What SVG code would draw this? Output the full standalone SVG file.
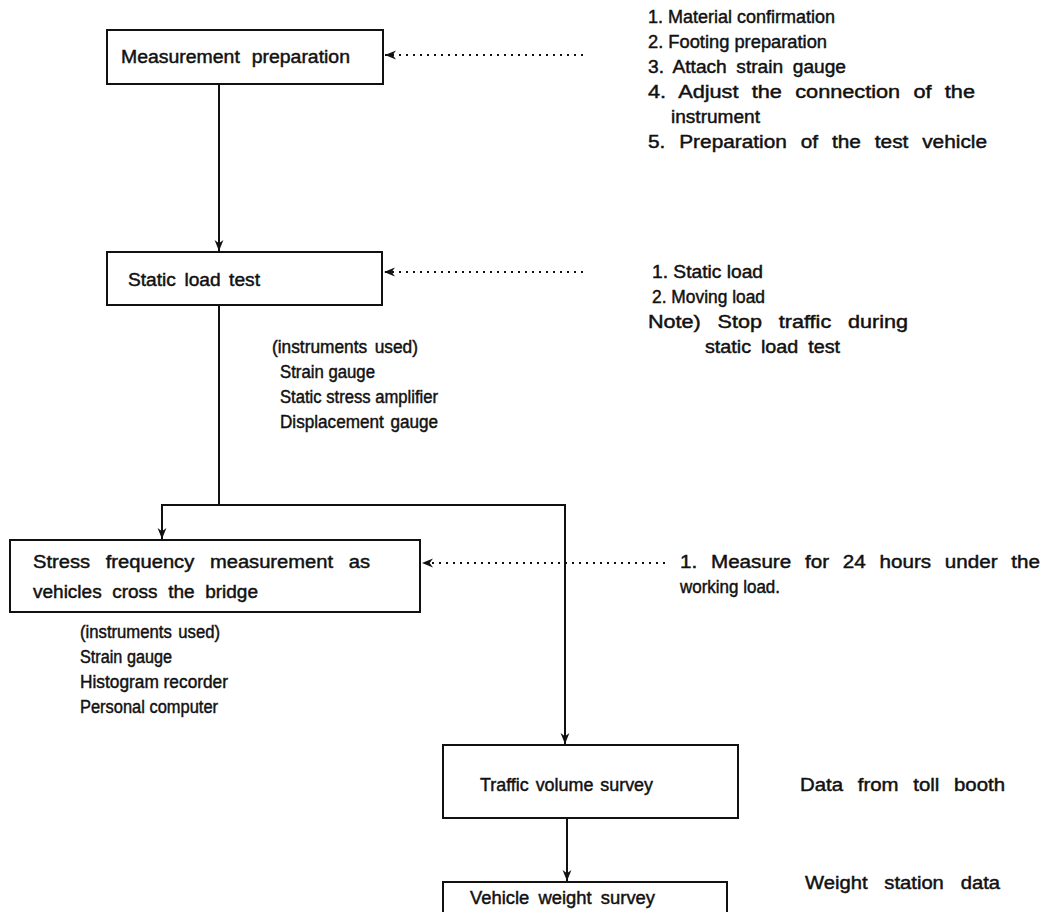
<svg xmlns="http://www.w3.org/2000/svg" width="1050" height="912" viewBox="0 0 1050 912">
<style>
text{font-family:"Liberation Sans",Arial,sans-serif;font-size:18px;fill:#111;stroke:#111;stroke-width:0.45px}
.box{fill:#fff;stroke:#111;stroke-width:2}
.ln{fill:none;stroke:#111;stroke-width:2}
.dot{fill:none;stroke:#111;stroke-width:2;stroke-dasharray:2 5}
</style>
<defs>
<marker id="ah" viewBox="0 0 10 10" refX="10" refY="5" markerWidth="11" markerHeight="11" markerUnits="userSpaceOnUse" orient="auto">
<path d="M0,1 L10,5 L0,9 L3,5 Z" fill="#111"/>
</marker>
</defs>
<rect width="1050" height="912" fill="#fff"/>
<g id="connectors">
<line class="ln" x1="219" y1="84" x2="219" y2="251" marker-end="url(#ah)"/>
<polyline class="ln" points="219,305 219,505 162,505 162,539" marker-end="url(#ah)"/>
<polyline class="ln" points="219,505 565,505 565,744" marker-end="url(#ah)"/>
<line class="ln" x1="567" y1="818" x2="567" y2="881" marker-end="url(#ah)"/>
<line class="dot" x1="583" y1="55" x2="385" y2="55" marker-end="url(#ah)"/>
<line class="dot" x1="583" y1="272" x2="384" y2="272" marker-end="url(#ah)"/>
<line class="dot" x1="665" y1="563" x2="422" y2="563" marker-end="url(#ah)"/>
</g>
<g id="n1">
<rect class="box" x="107" y="30" width="276" height="54"/>
<text x="121" y="63" word-spacing="6" textLength="229" lengthAdjust="spacingAndGlyphs">Measurement preparation</text>
</g>
<g id="n1-notes">
<text x="648" y="23" textLength="187" lengthAdjust="spacingAndGlyphs">1. Material confirmation</text>
<text x="648" y="48" textLength="179" lengthAdjust="spacingAndGlyphs">2. Footing preparation</text>
<text x="648" y="73" word-spacing="4" textLength="198" lengthAdjust="spacingAndGlyphs">3. Attach strain gauge</text>
<text x="648" y="98" word-spacing="6" textLength="327" lengthAdjust="spacingAndGlyphs">4. Adjust the connection of the</text>
<text x="671" y="123" textLength="89" lengthAdjust="spacingAndGlyphs">instrument</text>
<text x="648" y="148" word-spacing="7" textLength="339" lengthAdjust="spacingAndGlyphs">5. Preparation of the test vehicle</text>
</g>
<g id="n2">
<rect class="box" x="107" y="252" width="275" height="53"/>
<text x="128" y="286" word-spacing="3" textLength="132" lengthAdjust="spacingAndGlyphs">Static load test</text>
</g>
<g id="n2-notes">
<text x="652" y="278" textLength="111" lengthAdjust="spacingAndGlyphs">1. Static load</text>
<text x="652" y="303" textLength="113" lengthAdjust="spacingAndGlyphs">2. Moving load</text>
<text x="648" y="328" word-spacing="9" textLength="260" lengthAdjust="spacingAndGlyphs">Note) Stop traffic during</text>
<text x="705" y="353" word-spacing="4" textLength="135" lengthAdjust="spacingAndGlyphs">static load test</text>
</g>
<g id="n2-instruments">
<text x="272" y="353" word-spacing="3" textLength="146" lengthAdjust="spacingAndGlyphs">(instruments used)</text>
<text x="280" y="378" textLength="95" lengthAdjust="spacingAndGlyphs">Strain gauge</text>
<text x="280" y="403" textLength="158" lengthAdjust="spacingAndGlyphs">Static stress amplifier</text>
<text x="280" y="428" word-spacing="2" textLength="158" lengthAdjust="spacingAndGlyphs">Displacement gauge</text>
</g>
<g id="n3">
<rect class="box" x="10" y="540" width="410" height="72"/>
<text x="33" y="568" word-spacing="9" textLength="337" lengthAdjust="spacingAndGlyphs">Stress frequency measurement as</text>
<text x="33" y="598" word-spacing="5" textLength="225" lengthAdjust="spacingAndGlyphs">vehicles cross the bridge</text>
</g>
<g id="n3-notes">
<text x="680" y="568" word-spacing="7" textLength="360" lengthAdjust="spacingAndGlyphs">1. Measure for 24 hours under the</text>
<text x="680" y="593" textLength="100" lengthAdjust="spacingAndGlyphs">working load.</text>
</g>
<g id="n3-instruments">
<text x="80" y="638" word-spacing="2" textLength="140" lengthAdjust="spacingAndGlyphs">(instruments used)</text>
<text x="80" y="663" textLength="92" lengthAdjust="spacingAndGlyphs">Strain gauge</text>
<text x="80" y="688" textLength="148" lengthAdjust="spacingAndGlyphs">Histogram recorder</text>
<text x="80" y="713" textLength="138" lengthAdjust="spacingAndGlyphs">Personal computer</text>
</g>
<g id="n4">
<rect class="box" x="443" y="745" width="295" height="73"/>
<text x="480" y="791" word-spacing="2" textLength="173" lengthAdjust="spacingAndGlyphs">Traffic volume survey</text>
<text x="800" y="791" word-spacing="8" textLength="205" lengthAdjust="spacingAndGlyphs">Data from toll booth</text>
</g>
<g id="n5">
<rect class="box" x="443" y="882" width="284" height="40"/>
<text x="470" y="904" word-spacing="4" textLength="185" lengthAdjust="spacingAndGlyphs">Vehicle weight survey</text>
<text x="805" y="889" word-spacing="10" textLength="195" lengthAdjust="spacingAndGlyphs">Weight station data</text>
</g>
</svg>
